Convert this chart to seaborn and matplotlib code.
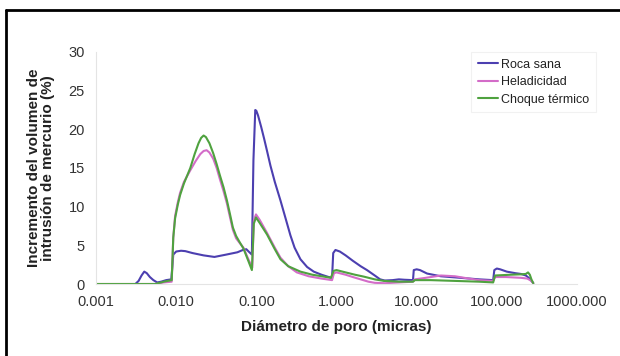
import numpy as np
import pandas as pd
import matplotlib
matplotlib.use("Agg")
import matplotlib.pyplot as plt
import seaborn as sns
from matplotlib.lines import Line2D

# ---- data ----
roca_x = [0.0031, 0.0034, 0.0037, 0.0040, 0.0043, 0.0047, 0.0052, 0.0058, 0.0065, 0.0075,
          0.0087, 0.0092, 0.0100, 0.0115, 0.0130, 0.0160, 0.0220, 0.0300, 0.0420, 0.0580,
          0.0680, 0.0750, 0.0820, 0.0880, 0.0920, 0.0970, 0.1000, 0.1050, 0.1150, 0.1250,
          0.1360, 0.1500, 0.1700, 0.2000, 0.2300, 0.2660, 0.3000, 0.3550, 0.4300, 0.5200,
          0.6500, 0.8000, 0.8800, 0.9100, 0.9700, 1.1000, 1.3000, 1.6000, 2.0000, 2.4000,
          3.0000, 3.5000, 4.0000, 5.0000, 6.0000, 7.0000, 9.0000, 9.2000, 10.000, 11.000,
          13.500, 20.000, 35.000, 60.000, 90.000, 93.000, 100.00, 110.00, 133.00, 170.00,
          200.00, 230.00, 250.00, 270.00, 285.00]
roca_y = [0.0, 0.4, 1.1, 1.6, 1.4, 0.9, 0.5, 0.2, 0.3, 0.5,
          0.6, 3.8, 4.2, 4.3, 4.25, 4.0, 3.7, 3.5, 3.8, 4.1,
          4.4, 4.5, 4.1, 3.8, 16.0, 22.5, 22.4, 21.8, 20.3, 18.8,
          17.2, 15.3, 13.2, 10.8, 8.6, 6.3, 4.7, 3.2, 2.2, 1.6,
          1.2, 0.9, 0.8, 4.0, 4.4, 4.2, 3.7, 3.0, 2.3, 1.8,
          1.1, 0.6, 0.45, 0.5, 0.6, 0.55, 0.5, 1.8, 1.9, 1.8,
          1.35, 1.0, 0.8, 0.6, 0.5, 1.8, 2.0, 1.9, 1.6, 1.4,
          1.3, 1.1, 0.8, 0.4, 0.1]

hela_x = [0.001, 0.0055, 0.0070, 0.0088, 0.0092, 0.0097, 0.0105, 0.0112, 0.0125, 0.0150,
          0.0175, 0.0200, 0.0220, 0.0240, 0.0260, 0.0290, 0.0320, 0.0350, 0.0390, 0.0430,
          0.0470, 0.0510, 0.0560, 0.0620, 0.0690, 0.0780, 0.0890, 0.0930, 0.0990, 0.1100,
          0.1360, 0.1700, 0.2000, 0.2500, 0.3200, 0.4500, 0.6500, 0.8800, 0.9300, 1.0000,
          1.3000, 1.6000, 2.0000, 2.5000, 3.0000, 4.0000, 6.0000, 9.0000, 9.5000, 13.000,
          20.000, 30.000, 45.000, 60.000, 90.000, 95.000, 130.00, 200.00, 240.00, 270.00,
          285.00]
hela_y = [0.0, 0.0, 0.2, 0.3, 6.0, 8.8, 10.6, 11.8, 13.2, 14.7,
          15.9, 16.8, 17.2, 17.3, 17.0, 16.2, 15.0, 13.6, 12.0, 10.4,
          8.6, 7.0, 5.9, 5.3, 4.7, 3.4, 2.1, 8.2, 9.0, 8.3,
          6.6, 4.7, 3.4, 2.3, 1.5, 1.0, 0.7, 0.5, 1.4, 1.5,
          1.2, 0.9, 0.6, 0.3, 0.15, 0.1, 0.2, 0.3, 0.6, 0.8,
          1.1, 1.0, 0.7, 0.5, 0.4, 0.9, 0.9, 0.8, 0.7, 0.4,
          0.1]

choque_x = [0.001, 0.0055, 0.0070, 0.0088, 0.0092, 0.0097, 0.0105, 0.0112, 0.0125, 0.0150,
            0.0170, 0.0190, 0.0205, 0.0220, 0.0235, 0.0260, 0.0290, 0.0320, 0.0350, 0.0390,
            0.0430, 0.0470, 0.0510, 0.0560, 0.0620, 0.0690, 0.0780, 0.0880, 0.0930, 0.0990,
            0.1100, 0.1360, 0.1700, 0.2000, 0.2500, 0.3550, 0.5000, 0.7000, 0.8500, 0.9200,
            1.0000, 1.3000, 1.7000, 2.2000, 3.0000, 3.9000, 6.0000, 9.0000, 9.5000, 15.000,
            30.000, 60.000, 90.000, 95.000, 150.00, 200.00, 230.00, 245.00, 258.00, 270.00,
            285.00]
choque_y = [0.0, 0.0, 0.3, 0.5, 6.0, 8.5, 10.3, 11.5, 13.0, 15.0,
            16.8, 18.2, 18.9, 19.2, 19.0, 18.2, 16.9, 15.5, 14.1, 12.5,
            10.8, 9.0, 7.3, 6.2, 5.4, 4.6, 3.2, 1.8, 7.8, 8.6,
            7.9, 6.4, 4.5, 3.2, 2.3, 1.6, 1.2, 0.95, 0.8, 1.7,
            1.8, 1.5, 1.2, 0.95, 0.6, 0.4, 0.3, 0.3, 0.5, 0.5,
            0.4, 0.3, 0.2, 1.1, 1.2, 1.25, 1.3, 1.5, 1.2, 0.6,
            0.1]

series_names = ["Roca sana", "Heladicidad", "Choque térmico"]
x_ticks = [0.001, 0.01, 0.1, 1, 10, 100, 1000]
x_tick_labels = ["0.001", "0.010", "0.100", "1.000", "10.000", "100.000", "1000.000"]
y_ticks = [0, 5, 10, 15, 20, 25, 30]

df = pd.concat([
    pd.DataFrame({"d": roca_x, "v": roca_y, "serie": series_names[0]}),
    pd.DataFrame({"d": hela_x, "v": hela_y, "serie": series_names[1]}),
    pd.DataFrame({"d": choque_x, "v": choque_y, "serie": series_names[2]}),
], ignore_index=True)

sns.set_theme(style="white")
plt.rcParams['font.family'] = ['Liberation Sans', 'DejaVu Sans']

fig = plt.figure(figsize=(6.2, 3.56), dpi=100)
ax = fig.add_axes([96/620, 1-284/356, (577-96)/620, (284-52)/356])

palette = {"Roca sana": "#4c3fb0", "Heladicidad": "#d36cc8", "Choque térmico": "#4fa23f"}
sns.lineplot(data=df, x="d", y="v", hue="serie", palette=palette, estimator=None,
             sort=False, linewidth=1.5, ax=ax)

ax.set_xscale("log")
ax.set_xlim(0.001, 1000)
ax.set_ylim(0, 30)
ax.set_xticks(x_ticks)
ax.set_xticklabels(x_tick_labels)
ax.xaxis.set_minor_locator(matplotlib.ticker.NullLocator())
ax.set_yticks(y_ticks)
ax.tick_params(axis="both", length=0, labelsize=10.5, labelcolor="#333333", pad=8)

for s in ["top", "right"]:
    ax.spines[s].set_visible(False)
for s in ["left", "bottom"]:
    ax.spines[s].set_color("#e4e4e4")
    ax.spines[s].set_linewidth(0.8)

ax.set_xlabel("Diámetro de poro (micras)", fontsize=11, fontweight="bold", color="#222222", labelpad=8)
ax.set_ylabel("Incremento del volumen de\nintrusión de mercurio (%)", fontsize=11,
              fontweight="bold", color="#222222", labelpad=10, linespacing=1.0)

leg = ax.legend(loc="upper right", bbox_to_anchor=(602/620, 1-46/356), bbox_transform=fig.transFigure,
                fontsize=9, frameon=True, fancybox=False, handlelength=1.6, handletextpad=0.3,
                borderpad=0.5, labelspacing=0.45, title=None)
leg.get_frame().set_edgecolor("#eeeeee")
leg.get_frame().set_linewidth(0.8)
for t in leg.get_texts():
    t.set_color("#222222")

# outer black frame (left and top edges visible in the reference)
fig.add_artist(Line2D([5.5/620, 5.5/620], [0, 1-9.5/356], transform=fig.transFigure,
                      color="black", linewidth=2))
fig.add_artist(Line2D([5.5/620, 1], [1-9.5/356, 1-9.5/356], transform=fig.transFigure,
                      color="black", linewidth=2))

fig.savefig("out.png", dpi=100, facecolor="white")
